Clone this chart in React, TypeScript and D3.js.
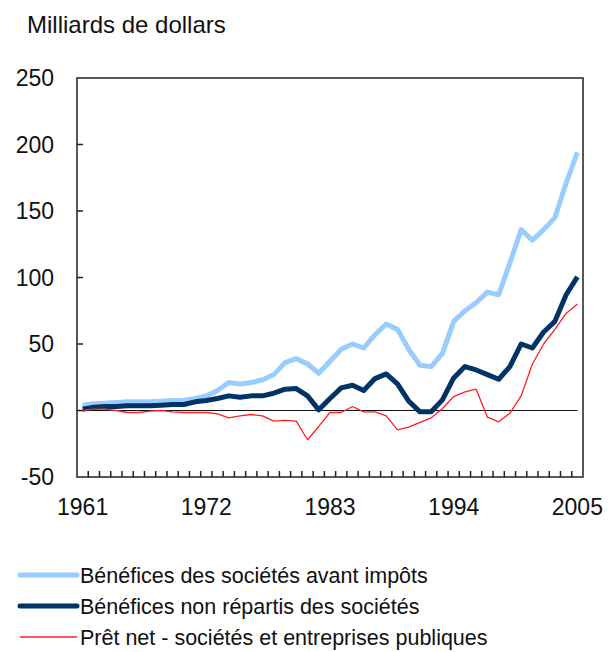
import React, { useEffect, useRef } from 'react';
import * as d3 from 'd3';

// years on the category axis
const years: number[] = d3.range(1961, 2006);

// labelled years on the x axis
const yearLabels: number[] = [1961, 1972, 1983, 1994, 2005];

// y axis ticks
const yTicks: number[] = [-50, 0, 50, 100, 150, 200, 250];

// Bénéfices des sociétés avant impôts
const avantImpots: number[] = [
    4, 5, 5.5, 6, 6.5, 6.5, 6.5, 7, 7.5, 7.5,
    9, 11, 15, 21, 20, 21, 23, 27, 36, 39,
    35, 28, 37, 46, 50, 47, 57, 65, 61, 46,
    34, 33, 43, 67, 75, 81, 89, 87, 111, 136,
    128, 136, 145, 171, 194
];

// Bénéfices non répartis des sociétés
const nonRepartis: number[] = [
    1, 2.5, 3, 3, 3.5, 3.5, 3.5, 4, 4.5, 4.5,
    6.5, 7.5, 9, 11, 10, 11, 11, 13, 16, 16.5,
    11, 0.5, 9, 17, 19, 15, 24, 27.5, 20, 7,
    -1, -1, 8, 24.5, 33, 30.5, 27, 23.5, 33, 50,
    47, 59, 67, 87, 100.5
];

// Prêt net - sociétés et entreprises publiques
const pretNet: number[] = [
    0, 1, 1, 0, -1.5, -1.5, -0.5, 0, -1, -1.5,
    -1.5, -1.5, -2.5, -5.5, -4, -3, -4, -8, -7.5, -8,
    -22, -12, -1.5, -1.5, 3, -1, -1, -4, -14.5, -12.5,
    -9, -5.5, 1.5, 10.5, 14, 16, -5, -8.5, -2, 11,
    35, 50, 61, 73, 80
];

const seriesNames: string[] = [
    'Bénéfices des sociétés avant impôts',
    'Bénéfices non répartis des sociétés',
    'Prêt net - sociétés et entreprises publiques'
];

const App = () => {
    const ref = useRef<SVGSVGElement>(null);

    useEffect(() => {
        const width = 613,
            height = 652;
        const left = 77,
            right = 583,
            top = 78,
            bottom = 477;
        const font = 'Liberation Sans, Arial, sans-serif';

        const svg = d3.select(ref.current);
        svg.selectAll('*').remove();
        svg.attr('width', width).attr('height', height);

        svg.append('rect')
            .attr('width', width)
            .attr('height', height)
            .attr('fill', '#fff');

        // scales
        const x = d3.scaleBand<number>()
            .domain(years)
            .range([left, right])
            .padding(0);
        const cx = (yr: number) => (x(yr) as number) + x.bandwidth() / 2;

        const y = d3.scaleLinear()
            .domain([-50, 250])
            .range([bottom, top]);

        // title
        svg.append('text')
            .attr('x', 27)
            .attr('y', 33)
            .attr('font-family', font)
            .attr('font-size', 24)
            .attr('fill', '#111')
            .text('Milliards de dollars');

        // y tick labels
        svg.append('g')
            .selectAll('text')
            .data(yTicks)
            .enter()
            .append('text')
            .attr('x', 54)
            .attr('y', d => y(d) + 8)
            .attr('text-anchor', 'end')
            .attr('font-family', font)
            .attr('font-size', 23)
            .attr('fill', '#111')
            .text(d => d);

        // y ticks
        svg.append('g')
            .selectAll('line')
            .data(yTicks.filter(d => d > -50 && d < 250))
            .enter()
            .append('line')
            .attr('x1', left)
            .attr('x2', left + 6)
            .attr('y1', d => y(d))
            .attr('y2', d => y(d))
            .attr('stroke', '#222')
            .attr('stroke-width', 1.5);

        // x ticks at category boundaries
        svg.append('g')
            .selectAll('line')
            .data(years.slice(1))
            .enter()
            .append('line')
            .attr('x1', d => x(d) as number)
            .attr('x2', d => x(d) as number)
            .attr('y1', bottom)
            .attr('y2', bottom - 6)
            .attr('stroke', '#222')
            .attr('stroke-width', 1.5);

        // x labels
        svg.append('g')
            .selectAll('text')
            .data(yearLabels)
            .enter()
            .append('text')
            .attr('x', d => cx(d))
            .attr('y', 515)
            .attr('text-anchor', 'middle')
            .attr('font-family', font)
            .attr('font-size', 23)
            .attr('fill', '#111')
            .text(d => d);

        // zero line
        svg.append('line')
            .attr('x1', left)
            .attr('x2', cx(2005))
            .attr('y1', y(0))
            .attr('y2', y(0))
            .attr('stroke', '#111')
            .attr('stroke-width', 1.2);

        // lines
        const line = d3.line<number>()
            .x((d, i) => cx(years[i]))
            .y(d => y(d));

        const series = [
            { values: avantImpots, color: '#99ccff', width: 5 },
            { values: nonRepartis, color: '#003366', width: 5 },
            { values: pretNet, color: '#ff2020', width: 1.3 }
        ];

        svg.append('g')
            .selectAll('path')
            .data(series)
            .enter()
            .append('path')
            .attr('d', d => line(d.values))
            .attr('fill', 'none')
            .attr('stroke', d => d.color)
            .attr('stroke-width', d => d.width)
            .attr('stroke-linejoin', 'round');

        // frame
        svg.append('rect')
            .attr('x', left)
            .attr('y', top)
            .attr('width', right - left)
            .attr('height', bottom - top)
            .attr('fill', 'none')
            .attr('stroke', '#222')
            .attr('stroke-width', 1.5);

        // legend
        const legend = svg.append('g')
            .selectAll('g')
            .data(series)
            .enter()
            .append('g')
            .attr('transform', (d, i) => 'translate(0,' + (575 + i * 31) + ')');

        legend.append('line')
            .attr('x1', 20)
            .attr('x2', 77)
            .attr('y1', 0)
            .attr('y2', 0)
            .attr('stroke', d => d.color)
            .attr('stroke-width', d => d.width)
            .attr('stroke-linecap', d => (d.width > 2 ? 'round' : 'butt'));

        legend.append('text')
            .attr('x', 80)
            .attr('y', 8)
            .attr('font-family', font)
            .attr('font-size', 21.5)
            .attr('fill', '#111')
            .text((d, i) => seriesNames[i]);
    }, []);

    return (
        <svg ref={ref} style={{ position: 'absolute', left: 0, top: 0, display: 'block' }}></svg>
    );
};

export default App;
